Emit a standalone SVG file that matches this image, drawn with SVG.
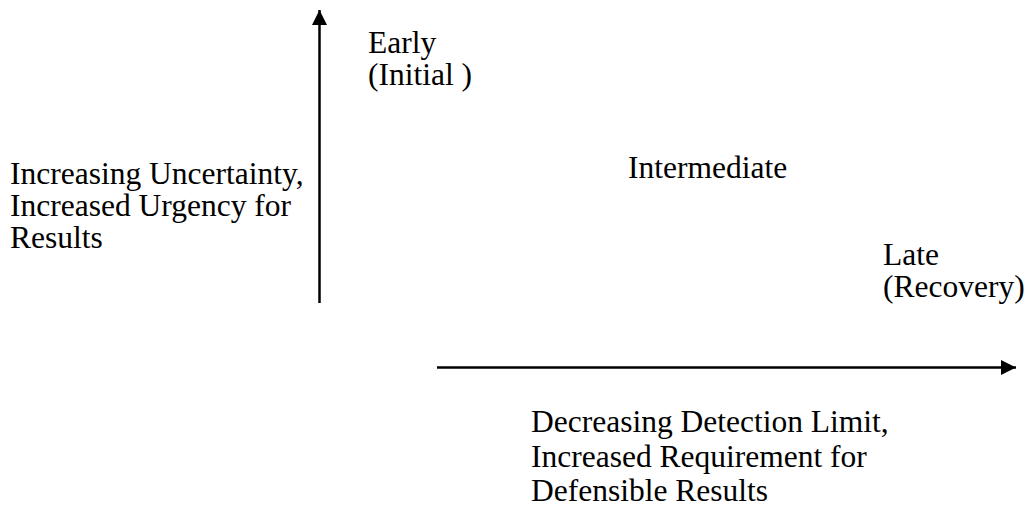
<svg xmlns="http://www.w3.org/2000/svg" width="1028" height="508" viewBox="0 0 1028 508">
<style>
text{font-family:"Liberation Serif","Times New Roman",serif;font-size:31.5px;fill:#000}
.ax{stroke:#000;stroke-width:2.5;fill:none}
</style>
<defs>
<marker id="ah" viewBox="0 0 10 10" refX="10" refY="5" markerWidth="6" markerHeight="6" markerUnits="strokeWidth" orient="auto">
<path d="M0,0 L10,5 L0,10 Z" fill="#000"/>
</marker>
</defs>
<rect width="1028" height="508" fill="#fff"/>
<g id="connectors">
<line class="ax" x1="319.5" y1="303" x2="319.5" y2="10" marker-end="url(#ah)"/>
<line class="ax" x1="437" y1="367.5" x2="1016" y2="367.5" marker-end="url(#ah)"/>
</g>
<g id="early"><text x="368" y="53">Early</text><text x="368" y="85">(Initial )</text></g>
<g id="intermediate"><text x="628" y="178">Intermediate</text></g>
<g id="late"><text x="883" y="265">Late</text><text x="883" y="297">(Recovery)</text></g>
<g id="y-label"><text x="10" y="184">Increasing Uncertainty,</text><text x="10" y="216">Increased Urgency for</text><text x="10" y="248">Results</text></g>
<g id="x-label"><text x="531" y="432">Decreasing Detection Limit,</text><text x="531" y="467">Increased Requirement for</text><text x="531" y="501">Defensible Results</text></g>
</svg>
